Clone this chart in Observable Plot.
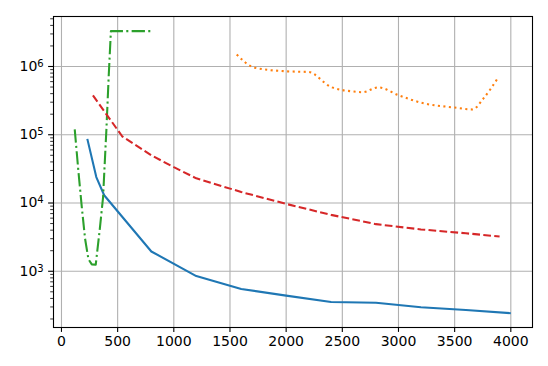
<!DOCTYPE html>
<html>
<head>
<meta charset="utf-8">
<script src="https://cdn.jsdelivr.net/npm/d3@7"></script>
<script src="https://cdn.jsdelivr.net/npm/@observablehq/plot@0.6"></script>
<style>
  html, body { margin: 0; padding: 0; background: #fff; }
  svg { display: block; }
</style>
</head>
<body>
<div id="chart"></div>
<script>
// Series
const blueX = [230, 310, 380, 800, 1200, 1600, 2000, 2400, 2800, 3200, 3600, 4000];
const blueY = [87000, 24000, 13000, 1950, 850, 550, 440, 355, 345, 297, 270, 243];

const orangeX = [1560, 1720, 2000, 2200, 2400, 2600, 2680, 2820, 3000, 3200, 3500, 3660, 3750, 3880];
const orangeY = [1500000, 960000, 850000, 830000, 500000, 430000, 420000, 495000, 380000, 295000, 250000, 235000, 330000, 660000];

const greenX = [118, 150, 180, 210, 240, 270, 305, 340, 370, 400, 420, 440, 800];
const greenY = [120000, 30000, 9000, 3000, 1500, 1260, 1250, 4000, 12000, 120000, 700000, 3300000, 3300000];

const redX = [280, 540, 800, 1000, 1200, 1600, 2000, 2400, 2800, 3200, 3600, 3900];
const redY = [377000, 95000, 50000, 33500, 23000, 14500, 9700, 6700, 4900, 4100, 3600, 3230];

const xTicks = [0, 500, 1000, 1500, 2000, 2500, 3000, 3500, 4000];
const yTicks = [1e3, 1e4, 1e5, 1e6];
const yTickExponents = ["3", "4", "5", "6"];

const toRows = (xs, ys) => xs.map((x, i) => ({x, y: ys[i]}));
const minorTicks = [];
for (let e = 2; e <= 6; e++) for (let m = 2; m <= 9; m++) {
  const v = m * 10 ** e;
  if (v >= 150 && v <= 5.4e6) minorTicks.push(v);
}

const lw = 2.08;
const chart = Plot.plot({
  width: 548,
  height: 366,
  marginLeft: 53,
  marginRight: 16,
  marginTop: 16,
  marginBottom: 39,
  style: {fontFamily: "DejaVu Sans", fontSize: "14px", background: "#fff", color: "#000"},
  x: {domain: [-71, 4193]},
  y: {type: "log", domain: [150, 5.4e6]},
  marks: [
    Plot.gridX(xTicks, {stroke: "#b0b0b0", strokeOpacity: 1, strokeWidth: 1.1}),
    Plot.gridY(yTicks, {stroke: "#b0b0b0", strokeOpacity: 1, strokeWidth: 1.1}),
    Plot.line(toRows(blueX, blueY), {x: "x", y: "y", stroke: "#1f77b4", strokeWidth: lw, strokeLinecap: "butt"}),
    Plot.line(toRows(orangeX, orangeY), {x: "x", y: "y", stroke: "#ff7f0e", strokeWidth: lw, strokeDasharray: "2.08,3.44", strokeLinecap: "butt", curve: "monotone-x"}),
    Plot.line(toRows(greenX, greenY), {x: "x", y: "y", stroke: "#2ca02c", strokeWidth: lw, strokeDasharray: "13.3,3.3,2.08,3.3", strokeLinecap: "butt"}),
    Plot.line(toRows(redX, redY), {x: "x", y: "y", stroke: "#d62728", strokeWidth: lw, strokeDasharray: "7.7,3.3", strokeLinecap: "butt"}),
    Plot.axisX(xTicks, {tickSize: 4.9, tickPadding: 4, strokeWidth: 1.1, fontSize: 14, label: null, tickFormat: d => String(d)}),
    Plot.axisY(yTicks, {tickSize: 4.9, tickPadding: 4.9, strokeWidth: 1.1, fontSize: 14, label: null, tickFormat: d => "10^" + yTickExponents[yTicks.indexOf(d)]}),
    Plot.axisY(minorTicks, {tickSize: 2.8, strokeWidth: 0.8, label: null, tickFormat: () => ""}),
    Plot.frame({stroke: "#000", strokeWidth: 1.1})
  ]
});
// Render "10^n" as 10 with a raised exponent
d3.select(chart).selectAll("text").each(function() {
  const t = d3.select(this);
  const s = t.text();
  const m = /^10\^(\d+)$/.exec(s);
  if (m) {
    t.text("10");
    t.append("tspan").attr("dy", "-0.42em").attr("font-size", "10px").text(m[1]);
  }
});
document.getElementById("chart").appendChild(chart);
</script>
</body>
</html>
